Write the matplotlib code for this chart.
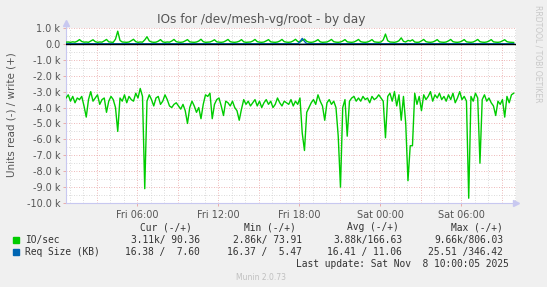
import numpy as np
import matplotlib
matplotlib.use("Agg")
import matplotlib.pyplot as plt

# IO/sec, thousands, one sample every 10 min starting Fri 00:44
io_read_k = [
    -3.4, -3.2, -3.6, -3.3, -3.7, -3.4, -3.5, -3.3, -3.9, -4.6,
    -3.5, -3.0, -3.6, -3.4, -3.2, -3.8, -3.5, -3.4, -4.3, -3.6,
    -3.3, -3.5, -4.0, -5.5, -3.4, -3.6, -3.2, -3.7, -3.3, -3.5,
    -3.6, -3.1, -3.4, -2.8, -3.3, -9.1, -3.6, -3.2, -3.5, -3.9,
    -3.4, -3.3, -3.8, -3.6, -3.2, -3.5, -3.9, -4.0, -3.8, -3.7,
    -3.9, -4.1, -3.8, -4.2, -5.0, -4.0, -3.6, -3.9, -4.3, -4.0,
    -4.7, -3.8, -3.2, -3.3, -3.1, -4.7, -3.8, -3.5, -3.4, -3.9,
    -4.5, -3.6, -3.7, -3.9, -3.6, -4.0, -4.2, -4.8, -4.1, -3.5,
    -3.8, -3.6, -3.9, -3.7, -3.5, -3.9, -3.6, -4.0, -3.7, -3.5,
    -3.8, -3.6, -4.0, -3.8, -3.4, -3.7, -3.9, -3.6, -3.7, -3.8,
    -3.5, -3.9, -3.6, -3.8, -3.4, -5.6, -6.7, -4.3, -4.0, -3.7,
    -3.5, -3.8, -3.2, -3.6, -3.9, -4.8, -3.7, -3.5, -3.8, -3.6,
    -4.0, -5.8, -9.0, -4.0, -3.5, -5.8, -3.6, -3.4, -3.3, -3.6,
    -3.4, -3.6, -3.3, -3.5, -3.4, -3.7, -3.3, -3.5, -3.4, -3.2,
    -3.4, -3.6, -5.9, -3.3, -3.1, -3.6, -3.0, -3.9, -3.2, -4.8,
    -3.3, -5.0, -8.6, -6.4, -6.4, -3.1, -3.8, -3.3, -4.2, -3.2,
    -3.5, -3.3, -3.0, -3.6, -3.2, -3.4, -3.1, -3.5, -3.3, -3.6,
    -3.2, -3.5, -3.1, -3.7, -3.4, -3.0, -3.5, -3.3, -3.6, -9.7,
    -3.3, -3.6, -3.1, -3.4, -7.5, -3.5, -3.2, -3.6, -3.4, -3.7,
    -3.9, -4.5, -3.6, -3.8, -3.5, -4.6, -3.3, -3.7, -3.2, -3.1,
]
io_write_k = [
    0.11, 0.12, 0.10, 0.13, 0.11, 0.17, 0.27, 0.15, 0.11, 0.12,
    0.10, 0.18, 0.26, 0.14, 0.10, 0.12, 0.11, 0.19, 0.28, 0.13,
    0.11, 0.10, 0.30, 0.80, 0.22, 0.12, 0.11, 0.10, 0.12, 0.20,
    0.29, 0.14, 0.10, 0.12, 0.11, 0.25, 0.45, 0.19, 0.12, 0.10,
    0.11, 0.17, 0.27, 0.13, 0.10, 0.12, 0.11, 0.18, 0.28, 0.14,
    0.11, 0.10, 0.12, 0.19, 0.27, 0.13, 0.11, 0.10, 0.12, 0.18,
    0.29, 0.14, 0.10, 0.11, 0.12, 0.18, 0.26, 0.13, 0.11, 0.10,
    0.12, 0.19, 0.28, 0.14, 0.11, 0.10, 0.12, 0.17, 0.27, 0.13,
    0.10, 0.11, 0.12, 0.18, 0.28, 0.14, 0.11, 0.10, 0.12, 0.19,
    0.27, 0.13, 0.11, 0.10, 0.12, 0.18, 0.28, 0.14, 0.11, 0.10,
    0.12, 0.19, 0.29, 0.15, 0.12, 0.22, 0.30, 0.16, 0.11, 0.10,
    0.12, 0.18, 0.27, 0.13, 0.10, 0.11, 0.12, 0.19, 0.28, 0.14,
    0.11, 0.10, 0.12, 0.18, 0.27, 0.13, 0.11, 0.10, 0.12, 0.19,
    0.28, 0.14, 0.11, 0.10, 0.12, 0.18, 0.27, 0.13, 0.11, 0.10,
    0.12, 0.25, 0.62, 0.20, 0.12, 0.11, 0.10, 0.13, 0.20, 0.38,
    0.16, 0.12, 0.22, 0.18, 0.26, 0.12, 0.10, 0.11, 0.19, 0.28,
    0.14, 0.11, 0.10, 0.12, 0.18, 0.27, 0.13, 0.11, 0.10, 0.12,
    0.19, 0.28, 0.14, 0.11, 0.10, 0.12, 0.18, 0.27, 0.13, 0.11,
    0.10, 0.12, 0.19, 0.28, 0.14, 0.11, 0.10, 0.12, 0.18, 0.27,
    0.13, 0.11, 0.10, 0.12, 0.19, 0.26, 0.14, 0.11, 0.10, 0.09,
]
# request size (KB -> shown in k units), sparse samples by index
req_idx = [0, 60, 103, 104, 105, 106, 107, 150, 199]
req_read_k = [-0.016, -0.016, -0.016, -0.017, -0.025, -0.018, -0.016, -0.016, -0.016]
req_write_k = [0.011, 0.010, 0.012, 0.14, 0.346, 0.16, 0.012, 0.011, 0.008]

t_start = 44 / 60  # hours after Fri 00:00
step_h = 10 / 60
x_end = 34.07

tick_hours = [6, 12, 18, 24, 30]
tick_labels = ["Fri 06:00", "Fri 12:00", "Fri 18:00", "Sat 00:00", "Sat 06:00"]
y_ticks = list(range(-10, 2))

legend_cols = ["Cur (-/+)", "Min (-/+)", "Avg (-/+)", "Max (-/+)"]
legend_rows = [
    ("IO/sec", "#00CC00", ["3.11k/ 90.36", "2.86k/ 73.91", "3.88k/166.63", "9.66k/806.03"]),
    ("Req Size (KB)", "#0066B3", ["16.38 /  7.60", "16.37 /  5.47", "16.41 / 11.06", "25.51 /346.42"]),
]

W, H = 547, 287
fig = plt.figure(figsize=(W / 100, H / 100), dpi=100, facecolor="#F0F0F0")
ax = fig.add_axes([66 / W, 1 - 203 / H, 450 / W, 175 / H])
ax.set_facecolor("white")

x = t_start + step_h * np.arange(len(io_read_k))
xr = t_start + step_h * np.array(req_idx)

# grid
for h in range(1, 35):
    c = "#E8A0A0" if h % 3 == 0 else "#CFCFCF"
    ax.axvline(h, color=c, lw=0.6, ls=(0, (1, 2)), zorder=1)
for v in np.arange(-10, 1.01, 0.5):
    c = "#E8A0A0" if float(v).is_integer() else "#CFCFCF"
    ax.axhline(v, color=c, lw=0.6, ls=(0, (1, 2)), zorder=1)

ax.plot(x, io_read_k, color="#00CC00", lw=1.0, zorder=3)
ax.plot(x, io_write_k, color="#00CC00", lw=1.0, zorder=3)
ax.plot(xr, req_read_k, color="#0066B3", lw=1.0, zorder=3)
ax.plot(xr, req_write_k, color="#0066B3", lw=1.0, zorder=3)
ax.axhline(0, color="black", lw=1.0, zorder=4)

ax.set_xlim(t_start, x_end)
ax.set_ylim(-10, 1)
ax.set_xticks(tick_hours)
ax.set_xticklabels(tick_labels)
ax.set_yticks(y_ticks)
ax.set_yticklabels(["0.0" if v == 0 else f"{v:.1f} k" for v in y_ticks])
ax.tick_params(axis="both", labelsize=7, colors="#555555", length=2, width=0.6,
               pad=2)
ax.tick_params(axis="x", pad=3, color="#E8A0A0")
ax.tick_params(axis="y", color="#E8A0A0")
for s in ["top", "right"]:
    ax.spines[s].set_visible(False)
for s in ["left", "bottom"]:
    ax.spines[s].set_color("#C8C8F0")
    ax.spines[s].set_linewidth(0.8)
ax.plot([0], [1.03], transform=ax.transAxes, marker="^", color="#C8C8F0",
        ms=5, clip_on=False)
ax.plot([1.0], [0], transform=ax.transAxes, marker=">", color="#C8C8F0",
        ms=5, clip_on=False)
ax.plot([0, 0], [1.0, 1.03], transform=ax.transAxes, color="#C8C8F0", lw=0.8,
        clip_on=False)

fig.text(261 / W, 1 - 19 / H, "IOs for /dev/mesh-vg/root - by day",
         ha="center", va="center", fontsize=8.7, color="#555555")
fig.text(12 / W, 1 - 115 / H, "Units read (-) / write (+)", rotation=90,
         ha="center", va="center", fontsize=7.5, color="#555555")
fig.text(538 / W, 1 - 5 / H, "RRDTOOL / TOBI OETIKER", rotation=270,
         ha="center", va="top", fontsize=5.5, color="#C8C8C8")

mono = dict(family="DejaVu Sans Mono", fontsize=6.9, color="#333333", va="center")
col_right = [200, 302, 402, 503]
col_center = [166, 270, 373, 477]
for cx, name in zip(col_center, legend_cols):
    fig.text(cx / W, 1 - 227 / H, name, ha="center", **mono)
for r, (name, color, vals) in enumerate(legend_rows):
    y = 1 - (240 + 12 * r) / H
    fig.patches.append(plt.Rectangle((13 / W, y - 3 / H), 6 / W, 6 / H,
                                     transform=fig.transFigure, color=color))
    fig.text(25 / W, y, name, ha="left", **mono)
    for cx, v in zip(col_right, vals):
        fig.text(cx / W, y, v, ha="right", **mono)
fig.text(509 / W, 1 - 264 / H, "Last update: Sat Nov  8 10:00:05 2025",
         ha="right", **mono)
fig.text(261 / W, 1 - 277 / H, "Munin 2.0.73", ha="center", va="center",
         fontsize=5.5, color="#C0C0C0")

fig.savefig("out.png", dpi=100, facecolor=fig.get_facecolor())
